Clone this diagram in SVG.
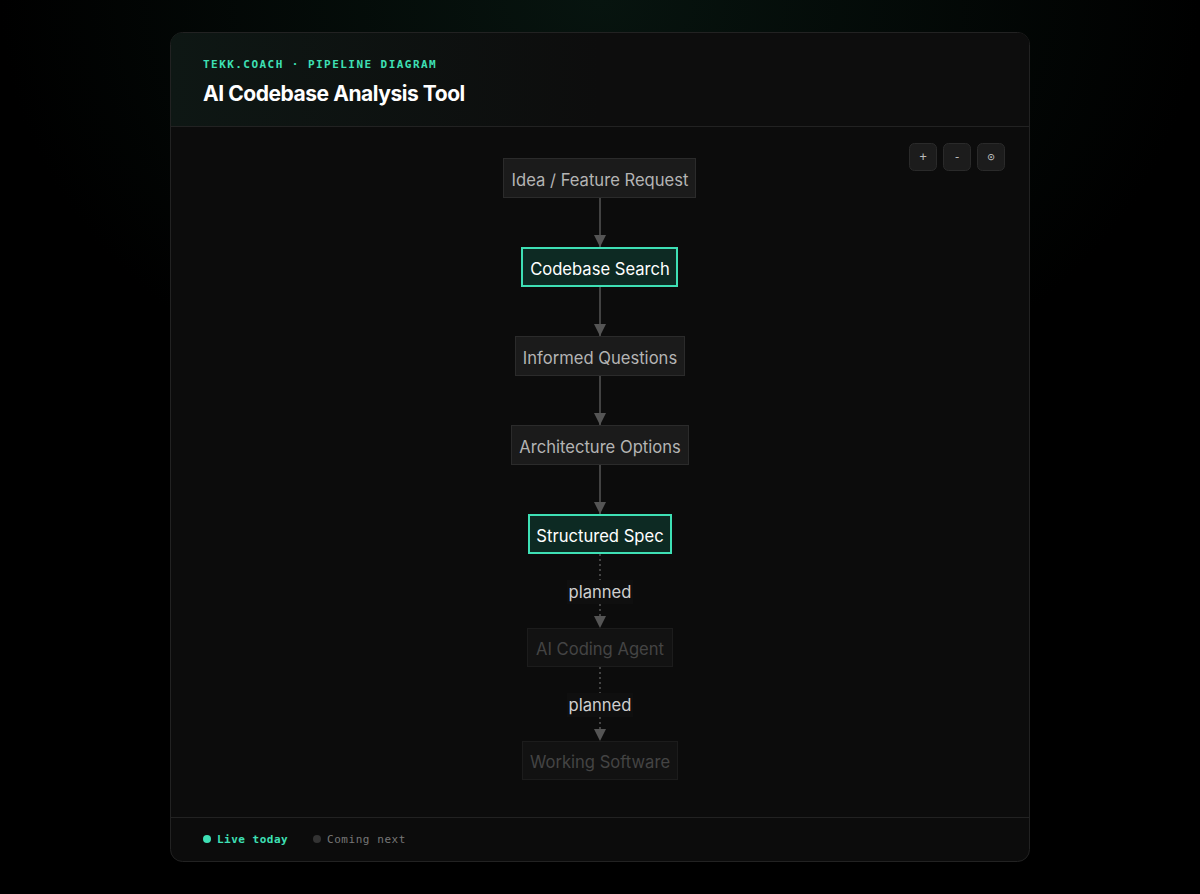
<svg xmlns="http://www.w3.org/2000/svg" width="1200" height="894" viewBox="0 0 1200 894">
  <defs>
    <radialGradient id="glow" cx="0.5" cy="0" r="0.5">
      <stop offset="0" stop-color="#07140f"/>
      <stop offset="1" stop-color="#000000"/>
    </radialGradient>
    <linearGradient id="hdr" x1="0" y1="0" x2="1" y2="0">
      <stop offset="0" stop-color="#0e1714"/>
      <stop offset="0.5" stop-color="#0d0d0d"/>
      <stop offset="1" stop-color="#0d0d0d"/>
    </linearGradient>
    <clipPath id="cardClip"><rect x="170.5" y="32.5" width="859" height="829" rx="12"/></clipPath>
    <marker id="arr" viewBox="0 0 10 10" refX="10" refY="5" markerWidth="12" markerHeight="12" markerUnits="userSpaceOnUse" orient="auto">
      <path d="M0,0 L10,5 L0,10 z" fill="#555555"/>
    </marker>
    <style>
      .node rect { fill: #1b1b1b; stroke: #2b2b2b; stroke-width: 1; }
      .node text { font-family: Inter, "Noto Sans", sans-serif; font-size: 16.6px; fill: #b4b4b4; text-anchor: middle; }
      .live rect { fill: #0d2a23; stroke: #3ee0b5; stroke-width: 2; }
      .live text { fill: #ffffff; }
      .dim rect { fill: #121212; stroke: #1c1c1c; }
      .dim text { fill: #444444; }
      .edge { stroke: #555555; stroke-width: 1.5; fill: none; }
      .dash { stroke-dasharray: 2 3; }
      .elabel { font-family: Inter, "Noto Sans", sans-serif; font-size: 16.6px; fill: #cfcfcf; text-anchor: middle; }
      .btn rect { fill: #1c1c1c; stroke: #2a2a2a; }
      .btn text { font-family: "DejaVu Sans Mono", monospace; font-size: 12px; fill: #bbbbbb; text-anchor: middle; }
      .mono { font-family: "DejaVu Sans Mono", "Liberation Mono", monospace; }
    </style>
  </defs>
  <rect width="1200" height="894" fill="url(#glow)"/>
  <g id="card">
    <rect x="170.5" y="32.5" width="859" height="829" rx="12" fill="#0c0c0c" stroke="#222222"/>
    <g clip-path="url(#cardClip)">
      <rect x="171" y="33" width="858" height="93" fill="url(#hdr)"/>
    </g>
    <line x1="171" y1="126.5" x2="1029" y2="126.5" stroke="#222222"/>
    <line x1="171" y1="817.5" x2="1029" y2="817.5" stroke="#222222"/>
  </g>
  <g id="header">
    <text x="203" y="67.5" class="mono" font-size="11" font-weight="bold" letter-spacing="1.45" fill="#3ee0b5">TEKK.COACH · PIPELINE DIAGRAM</text>
    <text x="203" y="101" font-family="Inter, 'Noto Sans', sans-serif" font-size="21" font-weight="bold" fill="#ffffff" letter-spacing="-0.45">AI Codebase Analysis Tool</text>
  </g>
  <g id="controls">
    <g class="btn"><rect x="909.5" y="143.5" width="27" height="27" rx="5"/><text x="923" y="161">+</text></g>
    <g class="btn"><rect x="943.5" y="143.5" width="27" height="27" rx="5"/><text x="957" y="161">-</text></g>
    <g class="btn"><rect x="977.5" y="143.5" width="27" height="27" rx="5"/><text x="991" y="161">⊙</text></g>
  </g>
  <g id="connectors">
    <line class="edge" x1="600" y1="198" x2="600" y2="247" marker-end="url(#arr)"/>
    <line class="edge" x1="600" y1="287" x2="600" y2="336" marker-end="url(#arr)"/>
    <line class="edge" x1="600" y1="376" x2="600" y2="425" marker-end="url(#arr)"/>
    <line class="edge" x1="600" y1="465" x2="600" y2="514" marker-end="url(#arr)"/>
    <line class="edge dash" x1="600" y1="554" x2="600" y2="628" marker-end="url(#arr)"/>
    <line class="edge dash" x1="600" y1="667" x2="600" y2="741" marker-end="url(#arr)"/>
    <rect x="567" y="580" width="66" height="24" fill="#0f0f0f"/>
    <text class="elabel" x="600" y="598">planned</text>
    <rect x="567" y="693" width="66" height="24" fill="#0f0f0f"/>
    <text class="elabel" x="600" y="711">planned</text>
  </g>
  <g id="n1" class="node"><rect x="503.5" y="158.5" width="192" height="39"/><text x="600" y="186">Idea / Feature Request</text></g>
  <g id="n2" class="node live"><rect x="522" y="248" width="155" height="38"/><text x="600" y="275">Codebase Search</text></g>
  <g id="n3" class="node"><rect x="515.5" y="336.5" width="169" height="39"/><text x="600" y="364">Informed Questions</text></g>
  <g id="n4" class="node"><rect x="511.5" y="425.5" width="177" height="39"/><text x="600" y="453">Architecture Options</text></g>
  <g id="n5" class="node live"><rect x="529" y="515" width="142" height="38"/><text x="600" y="542">Structured Spec</text></g>
  <g id="n6" class="node dim"><rect x="527.5" y="628.5" width="145" height="38"/><text x="600" y="655">AI Coding Agent</text></g>
  <g id="n7" class="node dim"><rect x="522.5" y="741.5" width="155" height="38"/><text x="600" y="768">Working Software</text></g>
  <g id="legend">
    <circle cx="207" cy="839" r="4" fill="#3ee0b5"/>
    <text x="217" y="843" class="mono" font-size="11" font-weight="bold" letter-spacing="0.5" fill="#3ee0b5">Live today</text>
    <circle cx="317" cy="839" r="4" fill="#333333"/>
    <text x="327" y="843" class="mono" font-size="11" letter-spacing="0.55" fill="#777777">Coming next</text>
  </g>
</svg>
